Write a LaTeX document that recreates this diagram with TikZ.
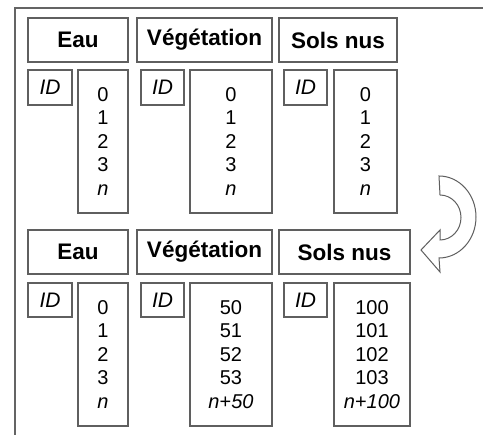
\documentclass[tikz,border=0pt]{standalone}
\usepackage{fontspec}
\setmainfont{Liberation Sans}
\definecolor{framegray}{RGB}{100,100,100}
\definecolor{linegray}{RGB}{95,95,95}
\begin{document}
\begin{tikzpicture}[x=1pt,y=-1pt,
  line join=miter,
  frame/.style={draw=framegray, line width=2.2pt},
  cell/.style={draw=linegray, line width=1.2pt, fill=white,
    rectangle, inner sep=0pt, align=center},
  head/.style={cell, minimum height=44pt, font=\fontsize{22.5}{26}\selectfont\bfseries},
  idbox/.style={cell, minimum width=44pt, minimum height=35pt,
    font=\fontsize{21}{24}\selectfont\itshape},
  vals/.style={cell, minimum width=50pt, minimum height=143pt,
    font=\fontsize{20}{23.5}\selectfont},
  turn/.style={draw=linegray, line width=1pt, fill=white}]

  % page area
  \fill[white] (0,0) rectangle (483,435);
  \useasboundingbox (0,0) rectangle (483,435);

  % outer frame (left and top edges)
  \draw[frame] (15,435) -- (15,8) -- (483,8);

  % ---- upper table ----
  \node[head, minimum width=100pt] (h1a) at (78,40)    {Eau};
  \node[head, minimum width=135pt] (h1b) at (204.5,40) {Végétation};
  \node[head, minimum width=118pt] (h1c) at (338,40)   {Sols nus};

  \node[idbox] (id1a) at (50,87.5)    {ID};
  \node[idbox, minimum width=43pt] (id1b) at (162.5,87.5) {ID};
  \node[idbox, minimum width=43pt] (id1c) at (305.5,87.5) {ID};

  \node[vals] (v1a) at (103,141.5) {0\\1\\2\\3\\\textit{n}};
  \node[vals, minimum width=82pt] (v1b) at (231,141.5) {0\\1\\2\\3\\\textit{n}};
  \node[vals, minimum width=63pt] (v1c) at (365.5,141.5) {0\\1\\2\\3\\\textit{n}};

  % ---- lower table ----
  \node[head, minimum width=100pt] (h2a) at (78,252)    {Eau};
  \node[head, minimum width=135pt] (h2b) at (204.5,252) {Végétation};
  \node[head, minimum width=131pt] (h2c) at (344.5,252) {Sols nus};

  \node[idbox, minimum height=34pt] (id2a) at (50,300)    {ID};
  \node[idbox, minimum width=43pt, minimum height=34pt] (id2b) at (162.5,300) {ID};
  \node[idbox, minimum width=43pt, minimum height=34pt] (id2c) at (305.5,300) {ID};

  \node[vals] (v2a) at (103,354.5) {0\\1\\2\\3\\\textit{n}};
  \node[vals, minimum width=82pt] (v2b) at (231,354.5) {50\\51\\52\\53\\\textit{n}+\textit{50}};
  \node[vals, minimum width=76pt] (v2c) at (372,354.5) {100\\101\\102\\103\\\textit{n}+\textit{100}};

  % U-turn arrow between the two tables (radii in pt, so angles follow the page)
  \draw[turn] (439,176)
      arc[start angle=90, end angle=-90, x radius=37pt, y radius=41pt]
      -- (440,272) -- (421,250) -- (440,230) -- (440,240)
      arc[start angle=-90, end angle=90, x radius=21pt, y radius=22.5pt]
      -- cycle;
\end{tikzpicture}
\end{document}
